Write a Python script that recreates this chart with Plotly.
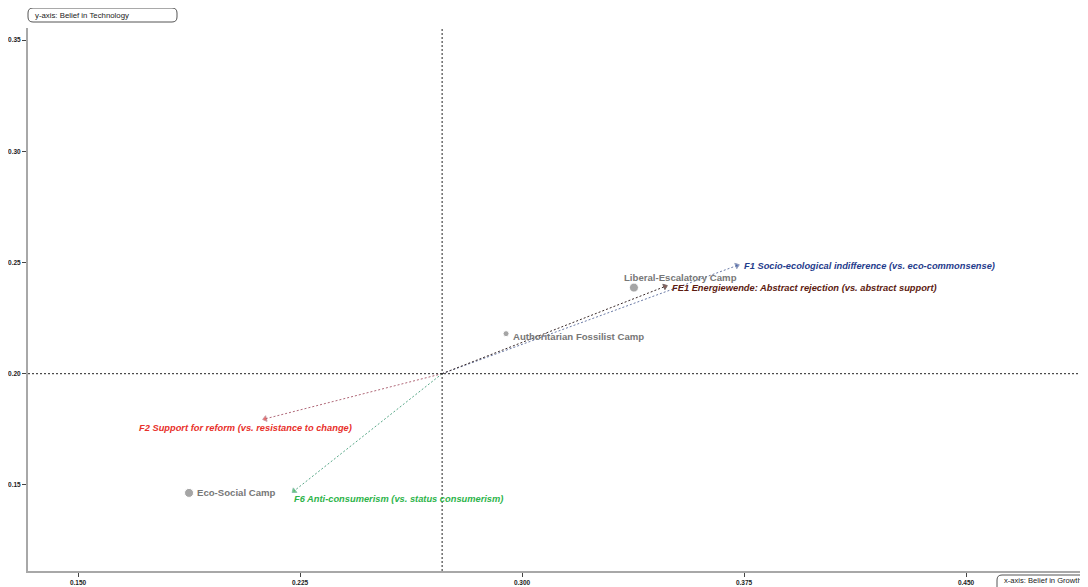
import plotly.graph_objects as go

# ---- data ----
camp_names = ["Liberal-Escalatory Camp", "Authoritarian Fossilist Camp", "Eco-Social Camp"]
camp_x = [0.3378, 0.2946, 0.1875]
camp_y = [0.2387, 0.2180, 0.1464]
camp_size = [9, 6, 9]

origin_x = 0.273
origin_y = 0.200

factor_names = [
    "F1 Socio-ecological indifference (vs. eco-commonsense)",
    "FE1 Energiewende: Abstract rejection (vs. abstract support)",
    "F2 Support for reform (vs. resistance to change)",
    "F6 Anti-consumerism (vs. status consumerism)",
]
factor_x = [0.3726, 0.3483, 0.2132, 0.2230]
factor_y = [0.2486, 0.2392, 0.1797, 0.1473]

x_ticks = [0.150, 0.225, 0.300, 0.375, 0.450]
y_ticks = [0.15, 0.20, 0.25, 0.30, 0.35]
x_tick_labels = ["0.150", "0.225", "0.300", "0.375", "0.450"]
y_tick_labels = ["0.15", "0.20", "0.25", "0.30", "0.35"]

x_title = "x-axis: Belief in Growth"
y_title = "y-axis: Belief in Technology"

# ---- styles ----
line_colors = ["#6a7aa6", "#3a2a2a", "#b06878", "#58a888"]
text_colors = ["#1f3c8c", "#5c1a10", "#e8302a", "#2db44a"]
head_colors = ["#2a4a9a", "#5c1a10", "#e8302a", "#2db44a"]
# label placement: (xanchor, yanchor, xshift, yshift)
label_pos = [
    ("left", "middle", 5, 0),
    ("left", "middle", 5, -2),
    ("center", "top", -20, -2),
    ("left", "top", -2, -1),
]
camp_label_pos = [
    ("center", "bottom", 47, 3),
    ("left", "middle", 5, -3),
    ("left", "middle", 6, 0),
]

FONT = "Liberation Sans, Arial, sans-serif"

fig = go.Figure()

# factor arrows
for i, name in enumerate(factor_names):
    fig.add_trace(go.Scatter(
        x=[origin_x, factor_x[i]], y=[origin_y, factor_y[i]],
        mode="lines+markers",
        line=dict(color=line_colors[i], width=1, dash="2px,2px"),
        marker=dict(symbol="triangle-up", size=[0, 5], angleref="previous",
                    color=head_colors[i]),
        hoverinfo="skip", showlegend=False,
    ))

# camps
fig.add_trace(go.Scatter(
    x=camp_x, y=camp_y, mode="markers",
    marker=dict(color="#808080", size=camp_size),
    hoverinfo="skip", showlegend=False,
))

annotations = []
for i, name in enumerate(factor_names):
    xa, ya, xs, ys = label_pos[i]
    annotations.append(dict(
        x=factor_x[i], y=factor_y[i], xref="x", yref="y",
        text="<b><i>" + name + "</i></b>", showarrow=False,
        xanchor=xa, yanchor=ya, xshift=xs, yshift=ys,
        font=dict(family=FONT, size=9.3, color=text_colors[i]),
    ))
for i, name in enumerate(camp_names):
    xa, ya, xs, ys = camp_label_pos[i]
    annotations.append(dict(
        x=camp_x[i], y=camp_y[i], xref="x", yref="y",
        text="<b>" + name + "</b>", showarrow=False,
        xanchor=xa, yanchor=ya, xshift=xs, yshift=ys,
        font=dict(family=FONT, size=9.6, color="#777777"),
    ))

# axis title boxes
annotations.append(dict(
    x=0.0045, y=1.0239, xref="paper", yref="paper", text=y_title,
    showarrow=False, xanchor="left", yanchor="middle",
    font=dict(family=FONT, size=7.8, color="#222"),
))
annotations.append(dict(
    x=0.9190, y=-0.0184, xref="paper", yref="paper", text=x_title,
    showarrow=False, xanchor="left", yanchor="middle",
    font=dict(family=FONT, size=7.6, color="#222"),
))


def rounded_rect(x0, y0, x1, y1, rx, ry):
    return (f"M {x0+rx},{y0} L {x1-rx},{y0} Q {x1},{y0} {x1},{y0+ry} "
            f"L {x1},{y1-ry} Q {x1},{y1} {x1-rx},{y1} L {x0+rx},{y1} "
            f"Q {x0},{y1} {x0},{y1-ry} L {x0},{y0+ry} Q {x0},{y0} {x0+rx},{y0} Z")


W, H = 1060.0, 543.0
shapes = [
    dict(type="line", xref="x", yref="paper", x0=origin_x, x1=origin_x, y0=0, y1=1,
         line=dict(color="#222", width=1, dash="2px,2px")),
    dict(type="line", xref="paper", yref="y", x0=0, x1=1, y0=origin_y, y1=origin_y,
         line=dict(color="#222", width=1, dash="2px,2px")),
    dict(type="path", xref="paper", yref="paper",
         path=rounded_rect(0.0, (571 - 22) / H, 149 / W, (571 - 8) / H, 5 / W, 5 / H),
         line=dict(color="#555", width=1), fillcolor="rgba(255,255,255,1)"),
    dict(type="path", xref="paper", yref="paper",
         path=rounded_rect(969 / W, (571 - 592) / H, 1070 / W, (571 - 575) / H, 5 / W, 5 / H),
         line=dict(color="#555", width=1), fillcolor="rgba(255,255,255,1)"),
]

fig.update_layout(
    width=1080, height=579,
    margin=dict(l=20, r=0, t=20, b=16, autoexpand=False),
    paper_bgcolor="white", plot_bgcolor="white",
    annotations=annotations, shapes=shapes,
    font=dict(family=FONT),
    xaxis=dict(range=[0.1331, 0.4912], tickvals=x_ticks,
               ticktext=["<b>" + t + "</b>" for t in x_tick_labels],
               showgrid=False, zeroline=False, showline=True, linecolor="#a8a8a8",
               linewidth=2, ticks="outside", ticklen=4, tickcolor="#444",
               tickfont=dict(family=FONT, size=6.5, color="#222"), fixedrange=True),
    yaxis=dict(range=[0.1113, 0.3554], tickvals=y_ticks,
               ticktext=["<b>" + t + "</b>" for t in y_tick_labels],
               showgrid=False, zeroline=False, showline=True, linecolor="#a8a8a8",
               linewidth=2, ticks="outside", ticklen=4, tickcolor="#444",
               tickfont=dict(family=FONT, size=6.5, color="#222"), fixedrange=True),
)

fig.write_html("out.html")
